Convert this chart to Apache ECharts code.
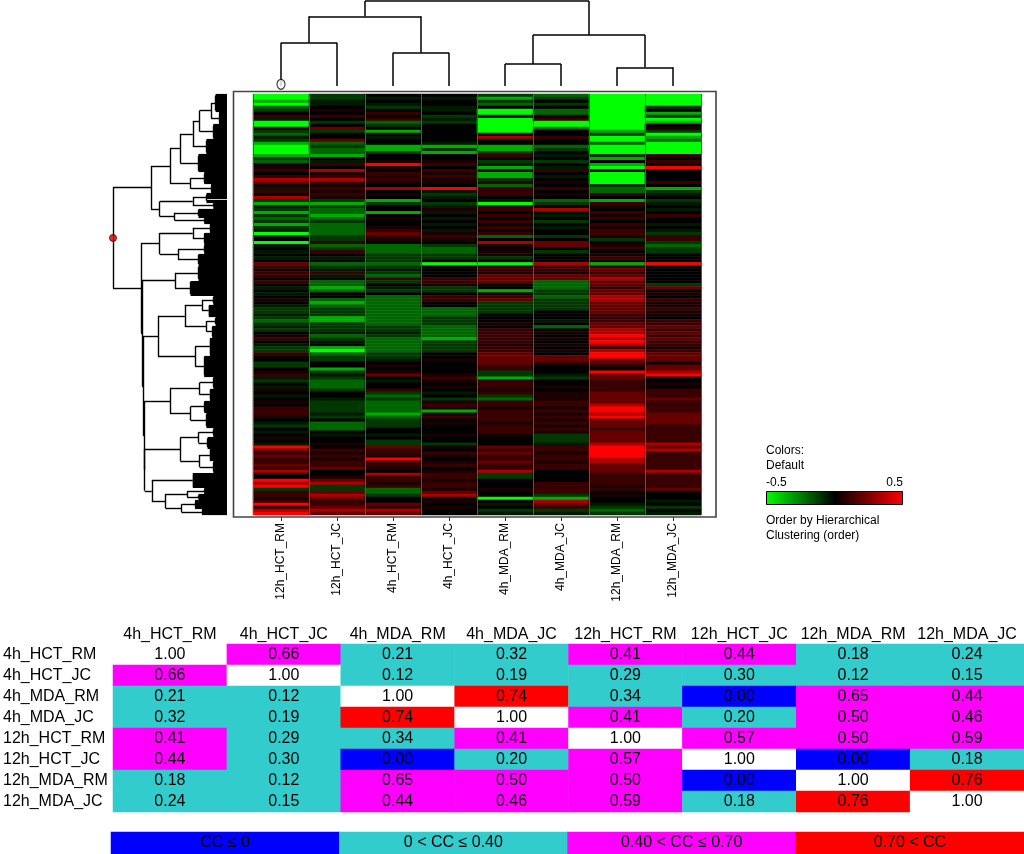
<!DOCTYPE html>
<html><head><meta charset="utf-8">
<script src="https://cdn.jsdelivr.net/npm/echarts@6/dist/echarts.min.js"></script>
<style>html,body{margin:0;padding:0;background:#fff}#c{width:1024px;height:854px}</style>
</head><body><div id="c"></div>
<script>
// ---------- heatmap columns (dendrogram order) ----------
const heatColumns = ['12h_HCT_RM','12h_HCT_JC','4h_HCT_RM','4h_HCT_JC','4h_MDA_RM','4h_MDA_JC','12h_MDA_RM','12h_MDA_JC'];
// colour levels: -5 (bright green) .. 0 (black) .. 5 (bright red), rows top to bottom
const levelValues = [-0.5, -0.34, -0.2, -0.11, -0.05, 0, 0.05, 0.11, 0.2, 0.34, 0.5];
const expr12hHCT_RM = [-5,-5,-4,-5,-3,-2,0,2,-1,-5, -5,1,-2,-3,-1,-2,-4,-5,-5,-5, -4,-2,-3,0,1,2,0,2,4,3, 1,-1,2,0,4,-2,-4,-1,-2,-4, -2,-3,-2,-4,-2,-1,-5,-1,0,-5, -1,0,-1,0,-1,0,3,2,1,2, 2,0,2,0,-1,0,-1,0,1,0, -1,-2,-2,-1,-2,-3,-2,-1,-2,0, 1,2,0,-1,-2,-2,2,0,0,-2, -2,0,1,2,-1,-2,0,-1,1,0, -1,0,1,0,2,2,2,1,0,-1, -2,0,-1,0,1,0,-1,5,3,2, 3,2,2,3,2,4,1,0,5,4, 5,-2,2,2,1,2,5,2,4,5];
const expr12hHCT_JC = [-2,-2,-1,-1,0,1,0,2,0,-2, 0,3,-2,0,0,3,-3,-2,-3,-3, -4,0,-1,2,0,4,1,2,4,2, 1,2,1,2,1,-2,-4,-2,-3,-3, -4,-3,-2,-3,-3,-3,-3,-2,-2,2, -3,-2,2,0,-1,0,-3,-2,-1,2, -1,0,-3,-3,-4,-3,0,0,-3,-4, -3,-2,-2,-2,-4,-4,-2,-2,-2,-1, -3,-2,-1,0,-4,-5,-3,-2,-2,0, 0,-4,-2,-1,-2,-3,-3,-3,-2,0, 0,-1,-2,-2,-2,-2,-1,-2,0,-3, -3,-3,0,-1,0,0,1,0,2,1, 2,1,2,2,3,0,0,1,3,4, -2,-2,3,4,3,2,2,3,4,3];
const expr4hHCT_RM = [0,-1,0,-1,-2,0,2,0,2,-3, -2,0,-4,0,-1,0,0,-4,-4,-2, 0,0,1,5,1,0,2,1,2,1, 0,4,0,1,0,-4,-2,0,0,-4, 0,1,0,0,1,2,3,2,1,0, -3,-3,-3,-2,-2,-2,-3,-2,-1,-2, -3,2,-2,0,-1,-2,0,-3,-3,-3, -3,-3,-3,-3,-3,-3,-3,-2,-2,-1, -2,-3,-3,-3,-3,-3,-2,-2,-1,0, 1,0,1,3,0,-1,0,0,2,-2, -3,-2,-3,-3,-3,-3,-4,-3,-2,-2, -2,0,0,-1,0,-2,-2,3,2,2, 1,5,2,2,1,0,4,2,2,1, 2,-3,-3,-2,0,0,3,2,4,3];
const expr4hHCT_JC = [0,-1,0,0,-1,-1,0,-2,-1,-2, 0,0,0,0,0,0,-1,-4,-2,-4, 0,0,1,2,0,2,1,2,1,1, 0,5,-1,-2,-1,0,-2,-1,1,-1, 0,-1,0,-1,0,-1,1,2,1,0, -2,-3,-3,-2,-2,0,-5,0,0,0, 0,2,2,1,-2,-2,0,2,2,0, 0,-3,-3,-3,-2,-2,-2,-3,-3,-3, -3,-4,-2,-2,-2,-2,0,0,1,0, 0,0,0,1,2,1,0,1,0,-1, 0,-2,1,2,1,-4,1,2,0,1, 0,0,0,1,0,0,-2,1,0,2, 1,0,1,2,0,1,2,2,1,2, 2,1,3,4,0,1,0,1,0,0];
const expr4hMDA_RM = [-2,-4,-2,-3,0,-5,-5,0,-5,-5, -5,-5,-5,0,4,0,0,-4,-4,-2, 2,0,-2,-1,-4,0,-4,-4,-2,2, -3,2,2,2,0,-1,-5,2,2,0, 2,0,2,0,2,0,2,-3,0,4, 1,0,1,1,-2,0,-5,2,2,1, 3,3,3,0,0,-4,1,2,3,-2, -2,-2,-2,0,0,0,1,0,2,2, 2,2,2,1,2,2,3,3,3,3, 2,2,-2,-2,-4,2,2,2,1,2, -2,-3,2,2,1,2,2,2,2,1, 2,2,2,1,0,0,0,3,2,3, 2,2,3,2,2,4,-2,-2,0,0, 0,1,0,0,-5,0,-1,0,-2,-1];
const expr4hMDA_JC = [-3,-2,0,-2,0,-3,-3,0,2,-5, -5,-3,0,0,2,0,0,-3,-2,0, -1,0,-2,0,-1,2,0,-1,0,1, 0,2,0,1,0,-3,-2,0,4,0, -1,0,-2,0,-1,0,0,-2,0,3, 3,0,-2,0,0,0,4,2,2,1, 3,3,-3,-3,-3,-2,-2,-3,-2,-2, -2,-2,0,0,0,-1,0,-3,0,1, 0,1,0,1,0,1,0,3,3,2, 0,0,0,-1,-2,0,0,1,0,1, 1,1,2,2,1,2,1,2,1,2, 1,2,1,-2,-2,-2,-1,2,2,1, 2,2,1,2,2,0,0,0,0,2, 2,2,2,-2,-4,4,3,2,-2,-1];
const expr12hMDA_RM = [-5,-5,-5,-5,-5,-5,-5,-5,-5,-5, -5,-5,-4,-2,-5,-5,-3,-5,-5,-5, -2,-4,0,-4,-5,0,-5,-5,-5,-5, -2,-3,-3,2,0,-4,2,1,0,2, 1,2,0,2,1,2,2,1,-2,0, 1,2,0,1,2,1,-4,2,3,2, 3,4,3,3,2,3,3,4,4,3, 3,3,3,2,2,2,3,3,4,4, 5,4,5,4,2,4,5,5,3,3, 1,0,5,3,3,2,2,2,2,3, 3,3,3,4,5,5,4,5,3,3, 3,2,3,3,3,3,4,5,5,5, 5,4,4,3,3,3,2,2,2,2, 1,2,0,1,0,0,-1,-2,-3,-2];
const expr12hMDA_JC = [-5,-5,-5,-5,-2,0,-4,-2,-5,-4, 0,1,-2,-5,-4,-3,-5,-5,-5,-5, 2,0,2,0,5,0,0,0,0,2, 0,-4,-2,-1,0,-2,-1,0,-1,0, 2,0,0,-1,0,-1,-2,2,2,-2, -3,-2,-2,0,0,0,5,0,0,0, 0,0,0,-2,3,0,1,0,2,1, 1,2,1,1,0,2,2,3,2,3, 2,3,2,2,1,2,3,3,3,0, 3,3,4,5,0,0,1,0,2,2, 2,3,2,2,2,2,3,3,3,3, 2,2,2,2,2,2,4,3,4,2, 2,2,2,2,2,4,2,2,2,2, 2,3,0,0,0,-1,0,-2,0,-1];
const heatValues = [expr12hHCT_RM, expr12hHCT_JC, expr4hHCT_RM, expr4hHCT_JC, expr4hMDA_RM, expr4hMDA_JC, expr12hMDA_RM, expr12hMDA_JC];

// ---------- dendrogram definitions (merge heights, 0 = leaves, 1 = root) ----------
function L(s, e, h) { return { leaf: true, s: s, e: e, h: h }; }
function N(h, a, b) { return { h: h, a: a, b: b }; }
const rowTreeA = N(.667,
  N(.50,
    N(.41, N(.30, N(.24, N(.14, L(0,5,.10), L(6,9,.07)), L(10,14,.12)), L(15,19,.18)), L(20,25,.25)),
    N(.32, L(26,29,.20), L(30,32,.14))),
  N(.59, N(.30, L(33,35,.18), L(36,37,.12)), N(.46, L(38,40,.25), L(41,42,.20))));
const rowTreeX1 = N(.59, N(.30, L(43,45,.15), L(46,49,.20)), N(.43, L(50,52,.20), L(53,56,.25)));
const rowTreeX2 = N(.456, L(57,61,.25), L(62,66,.32));
const rowTreeX3 = N(.605, N(.37, N(.22, L(67,69,.12), L(70,73,.16)), N(.18, L(74,76,.10), L(77,80,.13))),
                          N(.28, L(81,86,.15), L(87,93,.20)));
const rowTreeX4 = N(.50, N(.24, L(94,97,.12), L(98,101,.15)), N(.32, L(102,105,.20), L(106,110,.18)));
const rowTreeX5 = N(.41, N(.25, L(111,113,.12), L(114,117,.17)), N(.24, L(118,121,.15), L(122,125,.12)));
const rowTreeX6 = N(.66, L(126,130,.30), N(.54, N(.35, L(131,132,.20), L(133,134,.25)), N(.40, L(135,137,.28), L(138,139,.22))));
const rowTreeB = N(.754, rowTreeX1, N(.746, rowTreeX2, N(.737, rowTreeX3, N(.728, rowTreeX4, N(.722, rowTreeX5, rowTreeX6)))));
const rowTree = N(1.0, rowTreeA, rowTreeB);

function C(i) { return { leaf: true, s: i, e: i, h: 0 }; }
const colTree = N(1.0, N(.82, N(.51, C(0), C(1)), N(.39, C(2), C(3))), N(.60, N(.26, C(4), C(5)), N(.22, C(6), C(7))));

// ---------- correlation table ----------
const tableNames = ['4h_HCT_RM','4h_HCT_JC','4h_MDA_RM','4h_MDA_JC','12h_HCT_RM','12h_HCT_JC','12h_MDA_RM','12h_MDA_JC'];
const cc4hHCT_RM  = [1.00,0.66,0.21,0.32,0.41,0.44,0.18,0.24];
const cc4hHCT_JC  = [0.66,1.00,0.12,0.19,0.29,0.30,0.12,0.15];
const cc4hMDA_RM  = [0.21,0.12,1.00,0.74,0.34,0.00,0.65,0.44];
const cc4hMDA_JC  = [0.32,0.19,0.74,1.00,0.41,0.20,0.50,0.46];
const cc12hHCT_RM = [0.41,0.29,0.34,0.41,1.00,0.57,0.50,0.59];
const cc12hHCT_JC = [0.44,0.30,0.00,0.20,0.57,1.00,0.00,0.18];
const cc12hMDA_RM = [0.18,0.12,0.65,0.50,0.50,0.00,1.00,0.76];
const cc12hMDA_JC = [0.24,0.15,0.44,0.46,0.59,0.18,0.76,1.00];
const ccRows = [cc4hHCT_RM, cc4hHCT_JC, cc4hMDA_RM, cc4hMDA_JC, cc12hHCT_RM, cc12hHCT_JC, cc12hMDA_RM, cc12hMDA_JC];
const ccBinLabels = ['CC \u2264 0', '0 < CC \u2264 0.40', '0.40 < CC \u2264 0.70', '0.70 < CC'];
const ccBinColors = ['#0000ff', '#33cccc', '#ff00ff', '#ff0000'];

// ---------- build ----------
function ccColor(v, diag) {
  if (diag) return '#ffffff';
  if (v <= 0) return ccBinColors[0];
  if (v <= 0.40) return ccBinColors[1];
  if (v <= 0.70) return ccBinColors[2];
  return ccBinColors[3];
}
const nRows = expr12hHCT_RM.length;
const heatData = [];
heatValues.forEach((col, ci) => col.forEach((v, ri) => heatData.push([ci, ri, levelValues[v + 5]])));
const rowCats = [];
for (let i = 0; i < nRows; i++) rowCats.push(String(i));

// tree -> segments in [height, position] space
function buildTree(node, branch, leaves, leafLines) {
  if (node.leaf) {
    const p1 = node.s + 0.5, p2 = node.e + 0.5;
    if (leafLines) {
      for (let r = node.s; r <= node.e; r++) leaves.push([[node.h, r + 0.5], [0, r + 0.5]]);
      branch.push([[node.h, p1], [node.h, p2]]);
    }
    return (p1 + p2) / 2;
  }
  const pa = buildTree(node.a, branch, leaves, leafLines);
  const pb = buildTree(node.b, branch, leaves, leafLines);
  branch.push([[node.h, pa], [node.h, pb]]);
  branch.push([[node.h, pa], [node.a.h, pa]]);
  branch.push([[node.h, pb], [node.b.h, pb]]);
  return (pa + pb) / 2;
}
const rowBranch = [], rowLeaves = [];
const rootPos = buildTree(rowTree, rowBranch, rowLeaves, true);
const colBranchRaw = [];
buildTree(colTree, colBranchRaw, [], false);
const colBranch = colBranchRaw.map(s => s.map(p => [p[1], p[0]]));

const tableData = [];
ccRows.forEach((row, ri) => row.forEach((v, ci) => tableData.push({
  value: [ci, ri, v], itemStyle: { color: ccColor(v, ci === ri) }
})));
const binData = ccBinLabels.map((t, i) => ({ value: [i, 0, i], name: t, itemStyle: { color: ccBinColors[i] } }));

const FONT = "'Liberation Sans', Arial, sans-serif";
const chart = echarts.init(document.getElementById('c'), null, { renderer: 'canvas' });
chart.setOption({
  animation: false,
  backgroundColor: '#ffffff',
  grid: [
    { left: 253, top: 94, width: 448, height: 421 },          // heatmap
    { left: 113, top: 94, width: 114, height: 421 },          // row dendrogram
    { left: 253, top: 1, width: 448, height: 85 },            // column dendrogram
    { left: 111, top: 644, width: 913, height: 168 },         // correlation table
    { left: 111, top: 832, width: 913, height: 22 }           // cc legend bar
  ],
  xAxis: [
    { gridIndex: 0, type: 'category', data: heatColumns, position: 'bottom', offset: 2, z: 5,
      axisLine: { show: false },
      axisTick: { show: true, alignWithLabel: true, length: 4, lineStyle: { color: '#333', width: 1 } },
      axisLabel: { rotate: 90, margin: 6, fontSize: 12, color: '#000', fontFamily: FONT, interval: 0 },
      splitLine: { show: true, interval: 0, lineStyle: { color: '#555', width: 1 } } },
    { gridIndex: 1, type: 'value', min: 0, max: 1, inverse: true, show: false },
    { gridIndex: 2, type: 'value', min: 0, max: 8, show: false },
    { gridIndex: 3, type: 'category', data: tableNames, position: 'top',
      axisLine: { show: false }, axisTick: { show: false }, splitLine: { show: false },
      axisLabel: { fontSize: 16, color: '#000', fontFamily: FONT, margin: 1, interval: 0 } },
    { gridIndex: 4, type: 'category', data: ccBinLabels, show: false }
  ],
  yAxis: [
    { gridIndex: 0, type: 'category', data: rowCats, inverse: true, show: false },
    { gridIndex: 1, type: 'value', min: 0, max: nRows, inverse: true, show: false },
    { gridIndex: 2, type: 'value', min: 0, max: 1, show: false },
    { gridIndex: 3, type: 'category', data: tableNames, inverse: true,
      axisLine: { show: false }, axisTick: { show: false }, splitLine: { show: false },
      axisLabel: { fontSize: 16, color: '#000', fontFamily: FONT, align: 'left', margin: 110, interval: 0 } },
    { gridIndex: 4, type: 'category', data: ['cc'], show: false }
  ],
  visualMap: [{
    type: 'continuous', seriesIndex: 0, dimension: 2, min: -0.5, max: 0.5, show: false,
    inRange: { color: ['#00ff00', '#000000', '#ff0000'] }
  }],
  graphic: [
    { type: 'rect', z: 0, shape: { x: 233.5, y: 91.5, width: 482.5, height: 425.5 },
      style: { fill: '#ffffff', stroke: '#444', lineWidth: 1.6 } },
    { type: 'text', z: 10, x: 766, y: 451, style: { text: 'Colors:', font: '12px ' + FONT, fill: '#000', textVerticalAlign: 'middle' } },
    { type: 'text', z: 10, x: 766, y: 466, style: { text: 'Default', font: '12px ' + FONT, fill: '#000', textVerticalAlign: 'middle' } },
    { type: 'text', z: 10, x: 766, y: 483, style: { text: '-0.5', font: '12px ' + FONT, fill: '#000', textVerticalAlign: 'middle' } },
    { type: 'text', z: 10, x: 903, y: 483, style: { text: '0.5', font: '12px ' + FONT, fill: '#000', textAlign: 'right', textVerticalAlign: 'middle' } },
    { type: 'rect', z: 10, shape: { x: 766.5, y: 491.5, width: 136, height: 13 },
      style: { stroke: '#000', lineWidth: 1,
        fill: new echarts.graphic.LinearGradient(0, 0, 1, 0, [
          { offset: 0, color: '#00ff00' }, { offset: 0.5, color: '#000000' }, { offset: 1, color: '#ff0000' }]) } },
    { type: 'text', z: 10, x: 766, y: 521, style: { text: 'Order by Hierarchical', font: '12px ' + FONT, fill: '#000', textVerticalAlign: 'middle' } },
    { type: 'text', z: 10, x: 766, y: 536, style: { text: 'Clustering (order)', font: '12px ' + FONT, fill: '#000', textVerticalAlign: 'middle' } }
  ],
  series: [
    { type: 'heatmap', xAxisIndex: 0, yAxisIndex: 0, data: heatData, z: 2,
      itemStyle: { borderWidth: 0 }, emphasis: { disabled: true } },
    { type: 'lines', coordinateSystem: 'cartesian2d', xAxisIndex: 1, yAxisIndex: 1, clip: false, z: 3,
      data: rowBranch.map(c => ({ coords: c })), lineStyle: { color: '#000', width: 1.4, opacity: 1 } },
    { type: 'lines', coordinateSystem: 'cartesian2d', xAxisIndex: 1, yAxisIndex: 1, clip: false, z: 3,
      data: rowLeaves.map(c => ({ coords: c })), lineStyle: { color: '#000', width: 3.2, opacity: 1 } },
    { type: 'scatter', xAxisIndex: 1, yAxisIndex: 1, clip: false, z: 6, symbolSize: 7,
      data: [[rowTree.h, rootPos]], itemStyle: { color: '#e00000', borderColor: '#400', borderWidth: 1 } },
    { type: 'lines', coordinateSystem: 'cartesian2d', xAxisIndex: 2, yAxisIndex: 2, clip: false, z: 3,
      data: colBranch.map(c => ({ coords: c })), lineStyle: { color: '#000', width: 1.5, opacity: 1 } },
    { type: 'scatter', xAxisIndex: 2, yAxisIndex: 2, clip: false, z: 6, symbolSize: [8, 10],
      data: [[0.5, 0.02]], itemStyle: { color: '#ffffff', borderColor: '#000', borderWidth: 1.2 } },
    { type: 'heatmap', xAxisIndex: 3, yAxisIndex: 3, data: tableData, emphasis: { disabled: true },
      label: { show: true, fontSize: 16, color: '#000', fontFamily: FONT,
        formatter: p => p.value[2].toFixed(2) } },
    { type: 'heatmap', xAxisIndex: 4, yAxisIndex: 4, data: binData, emphasis: { disabled: true },
      label: { show: true, fontSize: 16, color: '#000', fontFamily: FONT, formatter: p => p.name } }
  ]
});
</script></body></html>
